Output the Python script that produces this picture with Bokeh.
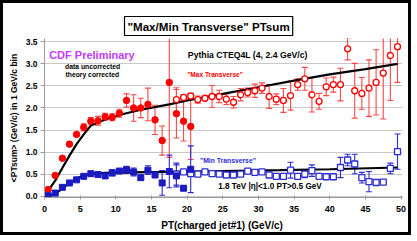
from bokeh.plotting import figure
from bokeh.models import Label, FixedTicker, CustomJSTickFormatter, ColumnDataSource, Title
from bokeh.embed import file_html
from bokeh.resources import INLINE
import numpy as np

# ---------------- data ----------------
max_x_filled = [0.5, 1.5, 2.5, 3.5, 4.5, 5.5, 6.5, 7.5, 8.5, 9.5, 10.5, 11.5, 12.5, 13.5,
                14.5, 15.5, 16.5, 17.5, 18.5, 19.5, 20.5]
max_y_filled = [0.15, 0.47, 0.86, 1.18, 1.40, 1.56, 1.70, 1.71, 1.80, 1.79, 1.88, 2.17, 2.00, 2.00,
                2.08, 1.73, 1.26, 2.58, 1.87, 1.70, 1.58]
max_e_filled = [0.0, 0.0, 0.0, 0.0, 0.0, 0.08, 0.08, 0.10, 0.08, 0.08, 0.09, 0.15, 0.30, 0.22,
                0.37, 0.33, 0.33, 1.70, 0.55, 0.45, 0.75]

max_x_open = [18.5, 19.5, 20.5, 21.5, 22.5, 23.5, 24.5, 25.5, 26.5, 27.5, 28.5, 29.5, 30.5, 31.5,
              32.5, 33.5, 34.5, 35.5, 36.5, 37.5, 38.5, 39.5, 40.5, 41.5, 42.5, 43.5, 44.5, 45.5,
              46.5, 47.5, 48.5, 49.5]
max_y_open = [2.19, 2.24, 2.27, 2.19, 2.22, 2.26, 2.26, 2.20, 2.13, 2.30, 2.35, 2.39, 2.45, 2.26,
              2.20, 2.17, 2.28, 2.53, 2.66, 2.30, 2.15, 2.48, 2.53, 2.53, 3.34, 2.39, 2.33, 2.45,
              2.58, 2.79, 3.19, 3.39]
max_e_open = [0.27, 0.06, 0.06, 0.08, 0.05, 0.25, 0.14, 0.12, 0.13, 0.14, 0.10, 0.15, 0.12, 0.27,
              0.12, 0.27, 0.33, 0.13, 0.26, 0.39, 0.18, 0.20, 0.17, 0.37, 0.25, 0.62, 0.36, 0.64,
              0.74, 1.04, 1.02, 0.81]

min_x_filled = max_x_filled
min_y_filled = [0.01, 0.07, 0.20, 0.30, 0.37, 0.45, 0.51, 0.49, 0.46, 0.53, 0.57, 0.60, 0.55, 0.42,
                0.59, 0.48, 0.30, 0.56, 0.46, 0.18, 0.61]
min_e_filled = [0.0, 0.0, 0.0, 0.0, 0.0, 0.0, 0.0, 0.03, 0.05, 0.07, 0.05, 0.08, 0.09, 0.06,
                0.10, 0.05, 0.28, 0.37, 0.25, 0.05, 0.53]

min_x_open = max_x_open
min_y_open = [0.50, 0.55, 0.51, 0.50, 0.55, 0.51, 0.50, 0.48, 0.48, 0.50, 0.57, 0.54, 0.55, 0.48,
              0.45, 0.45, 0.59, 0.45, 0.50, 0.58, 0.45, 0.44, 0.44, 0.65, 0.82, 0.73, 0.42, 0.33,
              0.31, 0.32, 0.63, 1.01]
min_e_open = [0.25, 0.02, 0.02, 0.02, 0.02, 0.02, 0.02, 0.02, 0.02, 0.02, 0.03, 0.05, 0.03, 0.05,
              0.03, 0.03, 0.18, 0.03, 0.08, 0.13, 0.04, 0.03, 0.03, 0.23, 0.13, 0.22, 0.12, 0.23,
              0.03, 0.04, 0.12, 0.40]

theory_max_x = [0.5, 1.5, 2.5, 3.5, 4.5, 5.5, 6.5, 8.5, 10.5, 13.5, 17.5, 20, 25, 30, 35, 40, 45, 49.5]
theory_max_y = [0.12, 0.35, 0.64, 0.92, 1.18, 1.40, 1.60, 1.74, 1.84, 1.96, 2.08, 2.17, 2.32, 2.47,
                2.62, 2.76, 2.88, 3.00]
theory_min_x = [0.5, 1.5, 2.5, 3.5, 4.5, 5.5, 6.5, 8.5, 12, 17.5, 25, 33, 40, 49.5]
theory_min_y = [0.0, 0.05, 0.17, 0.30, 0.40, 0.47, 0.51, 0.53, 0.54, 0.55, 0.57, 0.59, 0.61, 0.65]

x_ticks = [0, 5, 10, 15, 20, 25, 30, 35, 40, 45, 50]
y_ticks = [0.0, 0.5, 1.0, 1.5, 2.0, 2.5, 3.0, 3.5]

RED = "#ff0000"
RED_ERR = "#ff4848"
BLUE_F = "#1a1ac0"
BLUE_O = "#2c2cd0"
FONT = "Liberation Sans"
TITLE = "\"Max/Min Transverse\" PTsum"

p = figure(width=411, height=235, x_range=(0, 50.2), y_range=(-0.03, 3.575),
           output_backend="svg", toolbar_location=None,
           min_border_left=41, min_border_right=12, min_border_top=35, min_border_bottom=41)
p.styles = {"border": "3px solid black"}
p.outline_line_color = None
p.background_fill_color = "white"
p.border_fill_color = "white"

p.title = Title(text=TITLE, align="left", offset=80,
                text_font=FONT, text_font_style="bold", text_font_size="11.6px",
                text_color="black", background_fill_color="white",
                border_line_color="black", border_line_width=1.2,
                padding=3, standoff=6)

# drop shadow of the title box (drawn underneath)
p.add_layout(Label(x=11.1, y=3.78, text=TITLE, x_offset=2, y_offset=-2,
                   text_font=FONT, text_font_style="bold", text_font_size="11.6px",
                   text_alpha=0.0, text_align="left", text_baseline="bottom",
                   background_fill_color="#808080", border_line_color="#808080",
                   border_line_width=1.2, padding=3, level="underlay"))

p.xgrid.grid_line_color = None
p.ygrid.grid_line_color = "#c8c8c8"
p.ygrid.grid_line_width = 1
p.ygrid.ticker = FixedTicker(ticks=y_ticks)

p.xaxis.ticker = FixedTicker(ticks=x_ticks)
p.yaxis.ticker = FixedTicker(ticks=y_ticks)
p.yaxis.formatter = CustomJSTickFormatter(code="return tick.toFixed(1);")
for ax in (p.xaxis, p.yaxis):
    ax.axis_line_color = "#9a9a9a"
    ax.major_tick_line_color = "#9a9a9a"
    ax.minor_tick_line_color = None
    ax.major_label_text_font = FONT
    ax.major_label_text_font_style = "bold"
    ax.major_label_text_color = "black"
    ax.axis_label_text_font = FONT
    ax.axis_label_text_font_style = "bold"
    ax.axis_label_text_color = "black"
p.xaxis.major_tick_in = 2
p.xaxis.major_tick_out = 2
p.yaxis.major_tick_in = 0
p.yaxis.major_tick_out = 4
p.xaxis.major_label_text_font_size = "9px"
p.yaxis.major_label_text_font_size = "8.5px"
p.xaxis.major_label_standoff = 6
p.yaxis.major_label_standoff = 3
p.xaxis.axis_label = "PT(charged jet#1)  (GeV/c)"
p.xaxis.axis_label_text_font_size = "10px"
p.xaxis.axis_label_standoff = 5
p.yaxis.axis_label = "<PTsum> (GeV/c) in 1 GeV/c bin"
p.yaxis.axis_label_text_font_size = "8.5px"
p.yaxis.axis_label_standoff = 4


def errbars(xs, ys, es, color, width=1.1):
    xs = np.array(xs); ys = np.array(ys); es = np.array(es)
    m = es > 0
    src = ColumnDataSource(dict(x=xs[m], lo=ys[m] - es[m], hi=ys[m] + es[m]))
    p.segment(x0="x", y0="lo", x1="x", y1="hi", source=src, line_color=color, line_width=width)
    p.scatter(x="x", y="lo", source=src, marker="dash", size=6, line_color=color, line_width=width)
    p.scatter(x="x", y="hi", source=src, marker="dash", size=6, line_color=color, line_width=width)


errbars(max_x_open, max_y_open, max_e_open, RED_ERR)
errbars(max_x_filled, max_y_filled, max_e_filled, RED_ERR)
errbars(min_x_open, min_y_open, min_e_open, BLUE_O)
errbars(min_x_filled, min_y_filled, min_e_filled, BLUE_O)

p.line(theory_max_x, theory_max_y, line_color="black", line_width=2.2)
p.line(theory_min_x, theory_min_y, line_color="black", line_width=2.2)

p.scatter(max_x_open, max_y_open, marker="circle", size=6, fill_color="white",
          line_color=RED, line_width=1.3)
p.scatter(max_x_filled, max_y_filled, marker="circle", size=6.5, fill_color=RED, line_color=RED)
p.scatter(min_x_open, min_y_open, marker="square", size=6, fill_color="white",
          line_color=BLUE_O, line_width=1.3)
p.scatter(min_x_filled, min_y_filled, marker="square", size=6, fill_color=BLUE_F, line_color=BLUE_F)


def lab(x, y, text, size, color="black", align="left", baseline="middle"):
    p.add_layout(Label(x=x, y=y, text=text, text_font=FONT, text_font_style="bold",
                       text_font_size=size, text_color=color, text_align=align,
                       text_baseline=baseline))


lab(0.65, 3.21, "CDF Preliminary", "11px", color="#c43cf5")
lab(6.75, 2.95, "data uncorrected", "6.8px", align="center")
lab(6.7, 2.76, "theory corrected", "6.8px", align="center")
lab(20.1, 3.21, "Pythia CTEQ4L (4, 2.4 GeV/c)", "8.7px")
lab(20.0, 2.76, "\"Max Transverse\"", "6.6px", color=RED)
lab(21.8, 0.81, "\"Min Transverse\"", "6.8px", color=BLUE_O)
lab(24.35, 0.23, "1.8 TeV |\u03b7|<1.0 PT>0.5 GeV", "8.2px")

open("out.html", "w").write(file_html(p, INLINE))
